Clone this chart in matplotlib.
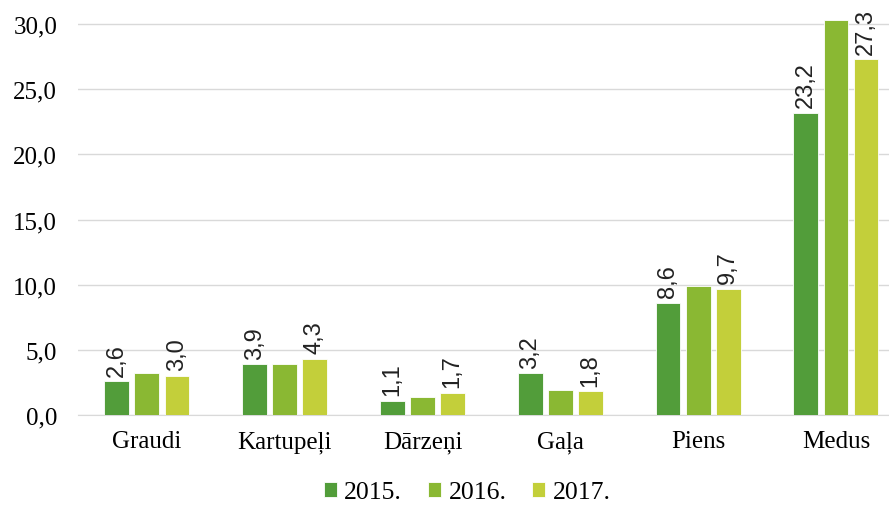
import matplotlib.pyplot as plt
import numpy as np

# data
categories = ['Graudi', 'Kartupeļi', 'Dārzeņi', 'Gaļa', 'Piens', 'Medus']
years = ['2015.', '2016.', '2017.']
v2015 = [2.6, 3.9, 1.1, 3.2, 8.6, 23.2]
v2016 = [3.2, 3.9, 1.4, 1.9, 9.9, 30.3]
v2017 = [3.0, 4.3, 1.7, 1.8, 9.7, 27.3]
labelled = [True, False, True]  # which years carry data labels

colors = ['#529D3A', '#8AB833', '#C3CF3A']

plt.rcParams['font.family'] = ['Liberation Serif', 'DejaVu Serif']

fig = plt.figure(figsize=(8.89, 5.06), dpi=100)
ax = fig.add_axes([0.0877, 0.178, 0.9123, 0.798])

x = np.arange(len(categories))
width = 0.18
step = 0.218
series = [v2015, v2016, v2017]

for i, vals in enumerate(series):
    pos = x + (i - 1) * step
    bars = ax.bar(pos, vals, width, color=colors[i], label=years[i],
                  edgecolor='white', linewidth=0.6, zorder=3)
    if labelled[i]:
        for b, v in zip(bars, vals):
            ax.annotate(f'{v:.1f}'.replace('.', ','),
                        (b.get_x() + b.get_width() / 2, v),
                        xytext=(0, 4), textcoords='offset points',
                        rotation=90, ha='center', va='bottom', fontsize=17,
                        family=['Liberation Sans Narrow', 'Liberation Sans'],
                        color='#222222')

ax.set_xlim(-0.5, 5.385)
ax.set_ylim(0, 31)
ax.set_yticks(np.arange(0, 31, 5))
ax.set_yticklabels([f'{t:.1f}'.replace('.', ',') for t in np.arange(0, 31, 5)])
ax.set_xticks(x)
ax.set_xticklabels(categories)
ax.tick_params(axis='both', length=0, labelsize=18, colors='black')
ax.tick_params(axis='y', pad=15)
ax.tick_params(axis='x', pad=11)
ax.yaxis.grid(True, color='#d9d9d9', linewidth=1, zorder=0)
for s in ['top', 'right', 'left']:
    ax.spines[s].set_visible(False)
ax.spines['bottom'].set_color('#d9d9d9')

ax.legend(loc='upper center', bbox_to_anchor=(0.48, -0.12), ncol=3,
          frameon=False, fontsize=18.5, handlelength=0.5, handleheight=0.5,
          handletextpad=0.3, columnspacing=1.0, borderpad=0.2)

fig.savefig('out.png', dpi=100)
